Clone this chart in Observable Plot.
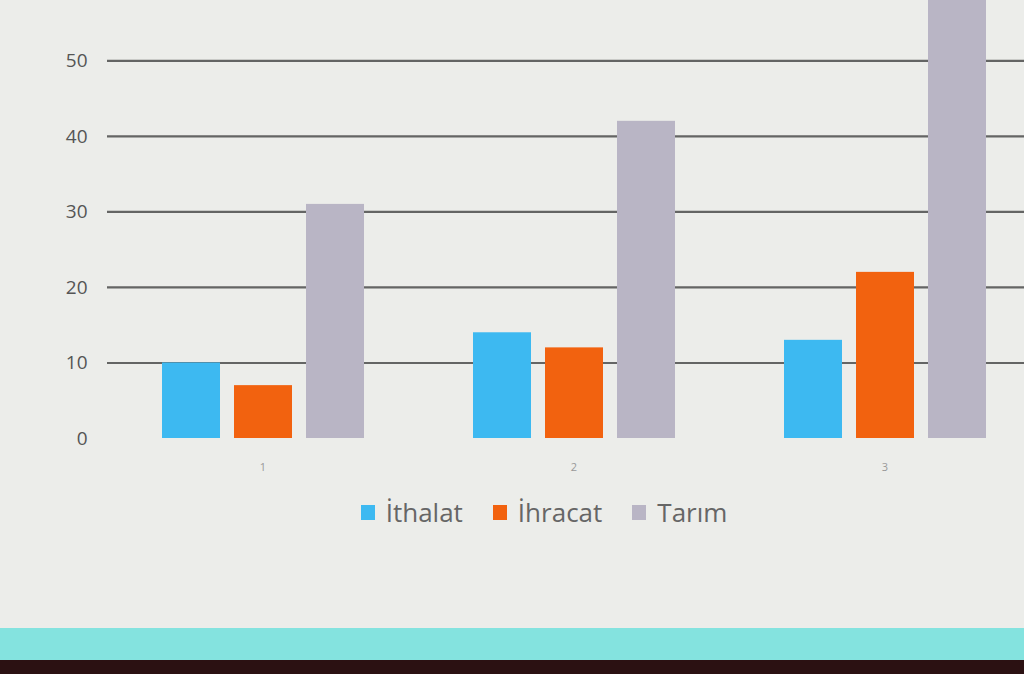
<!DOCTYPE html>
<html>
<head>
<meta charset="utf-8">
<script src="https://cdn.jsdelivr.net/npm/d3@7"></script>
<script src="https://cdn.jsdelivr.net/npm/@observablehq/plot@0.6"></script>
<style>
  html, body { margin: 0; padding: 0; }
  body { width: 1024px; height: 674px; background: #ecedea; position: relative; overflow: hidden; font-family: "Open Sans", "Noto Sans", sans-serif; }
  #chart { position: absolute; left: 0; top: 0; width: 1024px; overflow: hidden; }
  #chart svg { max-width: none !important; }
  #legend { position: absolute; top: 494px; left: 0; width: 1024px; display: flex; justify-content: center; gap: 30px; padding-left: 64px; box-sizing: border-box; font-size: 26px; color: #666; }
  .item { display: flex; align-items: center; gap: 11px; }
  .sw { width: 14px; height: 15px; display: inline-block; }
  #band { position: absolute; left: 0; top: 628px; width: 1024px; height: 34px; background: #84e3df; }
  #dark { position: absolute; left: 0; top: 660px; width: 1024px; height: 14px; background: #2b1112; }
</style>
</head>
<body>
<div id="chart"></div>
<div id="legend"></div>
<div id="band"></div>
<div id="dark"></div>
<script>
const groups = ["1", "2", "3"];
const seriesNames = ["İthalat", "İhracat", "Tarım"];
const ithalat = [10, 14, 13];
const ihracat = [7, 12, 22];
const tarim = [31, 42, 60];
const colors = ["#3db9f1", "#f2620f", "#b9b5c5"];
const yTicks = [0, 10, 20, 30, 40, 50];
const gridValues = [10, 20, 30, 40, 50];

const seriesValues = [ithalat, ihracat, tarim];
const rows = [];
groups.forEach((g, gi) => {
  seriesNames.forEach((s, si) => {
    rows.push({ group: g, series: s, value: seriesValues[si][gi] });
  });
});

const plot = Plot.plot({
  width: 1040,
  height: 478,
  marginTop: 0,
  marginLeft: 106,
  marginRight: 0,
  marginBottom: 40,
  style: { background: "transparent", fontFamily: "'Open Sans', 'Noto Sans', sans-serif", maxWidth: "none" },
  fx: { domain: groups, padding: 0, label: null },
  x: { domain: seriesNames, padding: 0.2, paddingOuter: 0.75, axis: null },
  y: { domain: [0, 58], label: null },
  color: { domain: seriesNames, range: colors },
  marks: [
    Plot.ruleY(gridValues, { stroke: "#555", strokeWidth: 2.2, strokeOpacity: 0.9 }),
    Plot.barY(rows, { fx: "group", x: "series", y: "value", fill: "series", clip: true }),
    Plot.axisY({ ticks: yTicks, tickSize: 0, tickPadding: 0, dx: -20, fontSize: 19, fill: "#555", label: null }),
    Plot.axisFx({ anchor: "bottom", tickSize: 0, fontSize: 11, fill: "#999", label: null, dy: 16 })
  ]
});
document.getElementById("chart").appendChild(plot);

const legend = document.getElementById("legend");
seriesNames.forEach((s, i) => {
  const item = document.createElement("div");
  item.className = "item";
  const sw = document.createElement("span");
  sw.className = "sw";
  sw.style.background = colors[i];
  const t = document.createElement("span");
  t.textContent = s;
  item.appendChild(sw);
  item.appendChild(t);
  legend.appendChild(item);
});
</script>
</body>
</html>
